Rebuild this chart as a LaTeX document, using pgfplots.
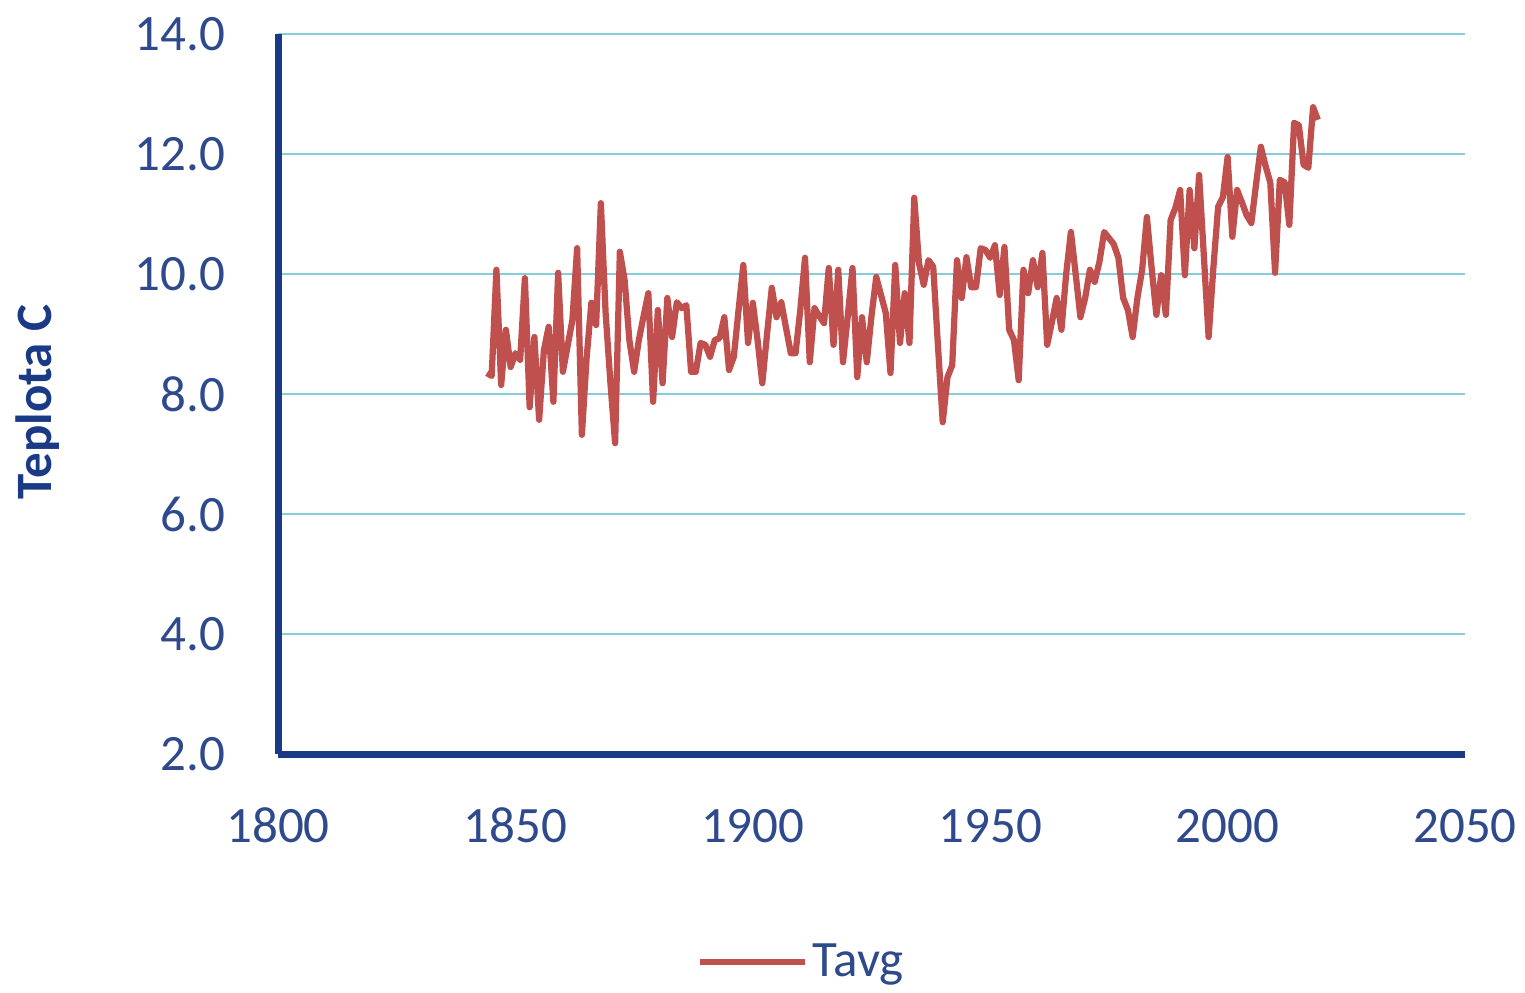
\documentclass[border=0pt]{standalone}
\usepackage{pgfplots}
\pgfplotsset{compat=1.18}
\usepackage{fontspec}
\setmainfont{Carlito}
\definecolor{navy}{HTML}{1B3A86}
\definecolor{ticktext}{HTML}{2F4A8C}
\definecolor{gridc}{HTML}{86CCDA}
\definecolor{linered}{HTML}{C0504D}
\begin{document}
\begin{tikzpicture}
\useasboundingbox (0,0) rectangle (610pt,396.8pt);
\begin{axis}[
  at={(111.2pt,95.2pt)}, anchor=south west,
  scale only axis, width=474.8pt, height=288pt,
  xmin=1800, xmax=2050, ymin=2, ymax=14,
  xtick={1800,1850,1900,1950,2000,2050},
  ytick={2,4,6,8,10,12,14},
  axis x line*=bottom, axis y line*=left,
  axis line style={line width=2.8pt, color=navy, -},
  major tick length=0pt,
  ymajorgrids, grid style={line width=0.8pt, color=gridc},
  /pgf/number format/assume math mode=true,
  /pgf/number format/set thousands separator={},
  yticklabel style={/pgf/number format/fixed, /pgf/number format/precision=1, /pgf/number format/fixed zerofill, anchor=east, inner sep=0pt, xshift=-21pt, text=ticktext, font=\fontsize{20.4}{24}\selectfont},
  xticklabel style={anchor=base, inner sep=0pt, yshift=-35.2pt, text=ticktext, font=\fontsize{20.4}{24}\selectfont},
  ylabel={Teplota C},
  every axis y label/.style={at={(axis description cs:-0.2022,0.489)}, rotate=90, anchor=center, font=\bfseries\fontsize{20.4}{24}\selectfont, text=navy},
  clip=false,
  legend style={at={(axis description cs:0.442,-0.289)}, anchor=center, draw=none, fill=none, font=\fontsize{20.4}{24}\selectfont, text=ticktext, inner sep=0pt},
  legend image code/.code={\draw[#1] (0pt,0pt) -- (42pt,0pt);},
]
\addplot[color=linered, line width=2.5pt, line join=round, mark=none] coordinates {
(1844,8.35) (1845,8.30) (1846,10.07) (1847,8.15) (1848,9.07) (1849,8.45)
(1850,8.68) (1851,8.57) (1852,9.93) (1853,7.78) (1854,8.95) (1855,7.57)
(1856,8.73) (1857,9.12) (1858,7.87) (1859,10.02) (1860,8.37) (1861,8.80)
(1862,9.23) (1863,10.43) (1864,7.32) (1865,8.60) (1866,9.52) (1867,9.15)
(1868,11.18) (1869,9.35) (1870,8.20) (1871,7.18) (1872,10.37) (1873,9.90)
(1874,8.90) (1875,8.37) (1876,8.90) (1877,9.30) (1878,9.68) (1879,7.87)
(1880,9.40) (1881,8.18) (1882,9.60) (1883,8.95) (1884,9.53) (1885,9.43)
(1886,9.48) (1887,8.37) (1888,8.37) (1889,8.85) (1890,8.82) (1891,8.62)
(1892,8.90) (1893,8.93) (1894,9.28) (1895,8.40) (1896,8.62) (1897,9.40)
(1898,10.15) (1899,8.85) (1900,9.52) (1901,8.90) (1902,8.18) (1903,9.00)
(1904,9.77) (1905,9.28) (1906,9.53) (1907,9.10) (1908,8.68) (1909,8.68)
(1910,9.40) (1911,10.27) (1912,8.53) (1913,9.43) (1914,9.30) (1915,9.18)
(1916,10.10) (1917,8.82) (1918,10.07) (1919,8.53) (1920,9.30) (1921,10.10)
(1922,8.28) (1923,9.28) (1924,8.53) (1925,9.30) (1926,9.95) (1927,9.65)
(1928,9.35) (1929,8.35) (1930,10.15) (1931,8.85) (1932,9.68) (1933,8.85)
(1934,11.27) (1935,10.18) (1936,9.82) (1937,10.23) (1938,10.12) (1939,8.80)
(1940,7.53) (1941,8.28) (1942,8.48) (1943,10.23) (1944,9.60) (1945,10.28)
(1946,9.78) (1947,9.78) (1948,10.43) (1949,10.40) (1950,10.27) (1951,10.48)
(1952,9.65) (1953,10.45) (1954,9.07) (1955,8.90) (1956,8.23) (1957,10.07)
(1958,9.68) (1959,10.23) (1960,9.78) (1961,10.35) (1962,8.82) (1963,9.20)
(1964,9.60) (1965,9.07) (1966,10.00) (1967,10.70) (1968,10.00) (1969,9.28)
(1970,9.60) (1971,10.07) (1972,9.87) (1973,10.20) (1974,10.70) (1975,10.60)
(1976,10.50) (1977,10.27) (1978,9.60) (1979,9.40) (1980,8.95) (1981,9.60)
(1982,10.07) (1983,10.95) (1984,10.10) (1985,9.32) (1986,9.98) (1987,9.32)
(1988,10.90) (1989,11.10) (1990,11.40) (1991,9.98) (1992,11.40) (1993,10.43)
(1994,11.65) (1995,10.30) (1996,8.95) (1997,10.10) (1998,11.12) (1999,11.28)
(2000,11.95) (2001,10.62) (2002,11.40) (2003,11.20) (2004,10.98) (2005,10.85)
(2006,11.50) (2007,12.12) (2008,11.80) (2009,11.52) (2010,10.02) (2011,11.57)
(2012,11.53) (2013,10.82) (2014,12.52) (2015,12.48) (2016,11.82) (2017,11.77)
(2018,12.78) (2019,12.57)
};
\addlegendentry{Tavg}
\end{axis}
\end{tikzpicture}
\end{document}
